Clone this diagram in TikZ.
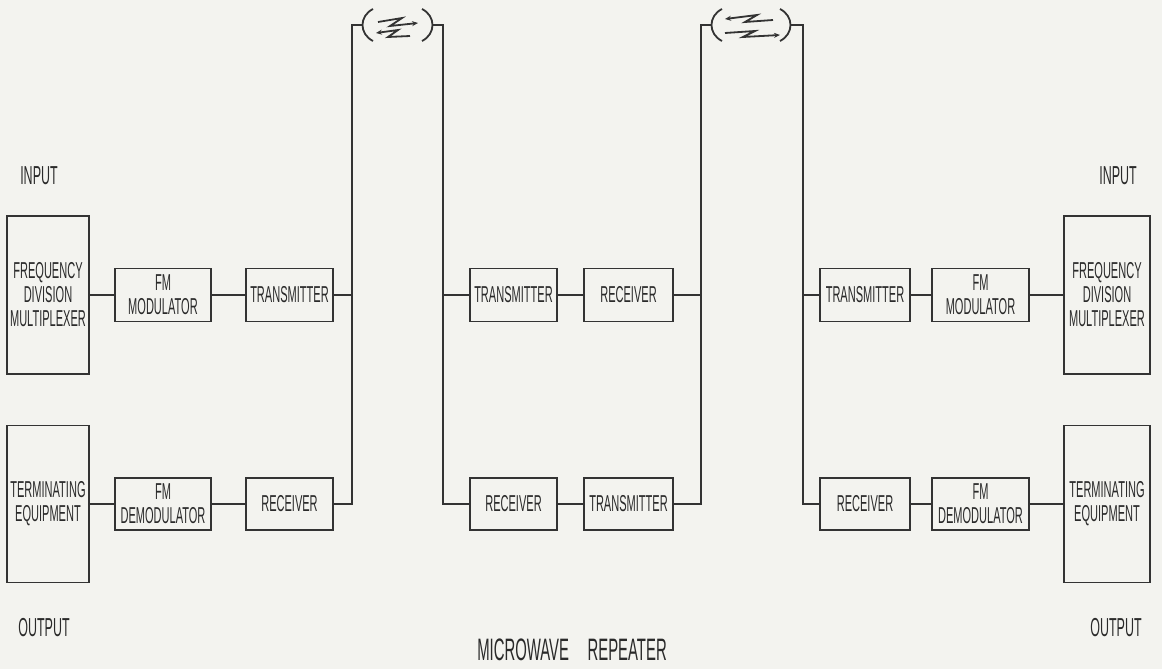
\documentclass[tikz,border=0pt]{standalone}
\usepackage{fontspec}
\setmainfont[FakeStretch=0.48]{Liberation Sans}
\usetikzlibrary{arrows.meta}
\definecolor{bgc}{HTML}{F3F3EF}
\definecolor{linec}{HTML}{333333}
\definecolor{textc}{HTML}{2A2A2A}
\begin{document}
\begin{tikzpicture}[x=1pt,y=-1pt]
\tikzset{
  blk/.style={draw=linec, line width=1.4pt, inner sep=0pt, align=center, text=textc,
    font=\fontsize{23}{24}\selectfont},
  wire/.style={draw=linec, line width=1.4pt},
  lbl/.style={text=textc, inner sep=0pt, font=\fontsize{26}{26}\selectfont},
  bolt/.style={draw=linec, line width=1.8pt, -{Stealth[length=6pt,width=5pt]}},
  paren/.style={draw=linec, line width=1.8pt}
}
\fill[bgc] (0,0) rectangle (1162,669);
\useasboundingbox (0,0) rectangle (1162,669);

% ---- left terminal ----
\node[blk, minimum width=82pt, minimum height=158pt] (fdmL) at (48,295) {FREQUENCY\\DIVISION\\MULTIPLEXER};
\node[blk, minimum width=96pt, minimum height=53pt] (fmmL) at (163,295) {FM\\MODULATOR};
\node[blk, minimum width=87pt, minimum height=53pt] (txL) at (289.5,295) {TRANSMITTER};
\node[blk, minimum width=82pt, minimum height=157pt] (termL) at (48,504) {TERMINATING\\EQUIPMENT};
\node[blk, minimum width=96pt, minimum height=52pt] (fmdL) at (163,504) {FM\\DEMODULATOR};
\node[blk, minimum width=87pt, minimum height=52pt] (rxL) at (289.5,504) {RECEIVER};

% ---- repeater ----
\node[blk, minimum width=87pt, minimum height=53pt] (txM) at (513.5,295) {TRANSMITTER};
\node[blk, minimum width=89pt, minimum height=53pt] (rxM) at (628.5,295) {RECEIVER};
\node[blk, minimum width=87pt, minimum height=52pt] (rxMb) at (513.5,504) {RECEIVER};
\node[blk, minimum width=89pt, minimum height=52pt] (txMb) at (628.5,504) {TRANSMITTER};

% ---- right terminal ----
\node[blk, minimum width=90pt, minimum height=53pt] (txR) at (865,295) {TRANSMITTER};
\node[blk, minimum width=97pt, minimum height=53pt] (fmmR) at (980.5,295) {FM\\MODULATOR};
\node[blk, minimum width=86pt, minimum height=158pt] (fdmR) at (1107,295) {FREQUENCY\\DIVISION\\MULTIPLEXER};
\node[blk, minimum width=90pt, minimum height=52pt] (rxR) at (865,504) {RECEIVER};
\node[blk, minimum width=97pt, minimum height=52pt] (fmdR) at (980.5,504) {FM\\DEMODULATOR};
\node[blk, minimum width=86pt, minimum height=157pt] (termR) at (1107,504) {TERMINATING\\EQUIPMENT};

% ---- labels ----
\node[lbl] (inL) at (39,176) {INPUT};
\node[lbl] (outL) at (44,628) {OUTPUT};
\node[lbl] (inR) at (1118,176) {INPUT};
\node[lbl] (outR) at (1116,628) {OUTPUT};
\node[lbl, font=\fontsize{31}{31}\selectfont] (title) at (572,650) {MICROWAVE\hspace{0.6em}REPEATER};

% ---- bus coordinates ----
\coordinate (busL) at (352,25);
\coordinate (parL1) at (362,25);
\coordinate (parL2) at (433,25);
\coordinate (busM1) at (443,25);
\coordinate (busM2) at (701,25);
\coordinate (parR1) at (712,25);
\coordinate (parR2) at (790,25);
\coordinate (busR) at (803,25);

% ---- connectors ----
\draw[wire] (fdmL) -- (fmmL);
\draw[wire] (fmmL) -- (txL);
\draw[wire] (termL) -- (fmdL);
\draw[wire] (fmdL) -- (rxL);
\draw[wire] (txL.east) -- (txL.east -| busL);
\draw[wire] (rxL.east) -| (busL) -- (parL1);

\draw[wire] (parL2) -- (busM1) |- (rxMb.west);
\draw[wire] (txM.west -| busM1) -- (txM.west);
\draw[wire] (txM) -- (rxM);
\draw[wire] (rxMb) -- (txMb);
\draw[wire] (rxM.east) -- (rxM.east -| busM2);
\draw[wire] (txMb.east) -| (busM2) -- (parR1);

\draw[wire] (parR2) -- (busR) |- (rxR.west);
\draw[wire] (txR.west -| busR) -- (txR.west);
\draw[wire] (txR) -- (fmmR);
\draw[wire] (fmmR) -- (fdmR);
\draw[wire] (rxR) -- (fmdR);
\draw[wire] (fmdR) -- (termR);

% ---- radio links ----
\draw[paren] (373,9) .. controls (359,16) and (359,34) .. (373,41);
\draw[paren] (422,9) .. controls (436,16) and (436,34) .. (422,41);
\draw[bolt] (378,22) -- (402,18) -- (390,26) -- (418,23);
\draw[bolt] (410,36) -- (388,37) -- (398,30) -- (376,33);

\draw[paren] (722,9) .. controls (708,16) and (708,34) .. (722,41);
\draw[paren] (780,9) .. controls (794,16) and (794,34) .. (780,41);
\draw[bolt] (773,20) -- (745,22) -- (757,15) -- (725,19);
\draw[bolt] (725,33) -- (755,31) -- (743,37) -- (780,35);
\end{tikzpicture}
\end{document}
